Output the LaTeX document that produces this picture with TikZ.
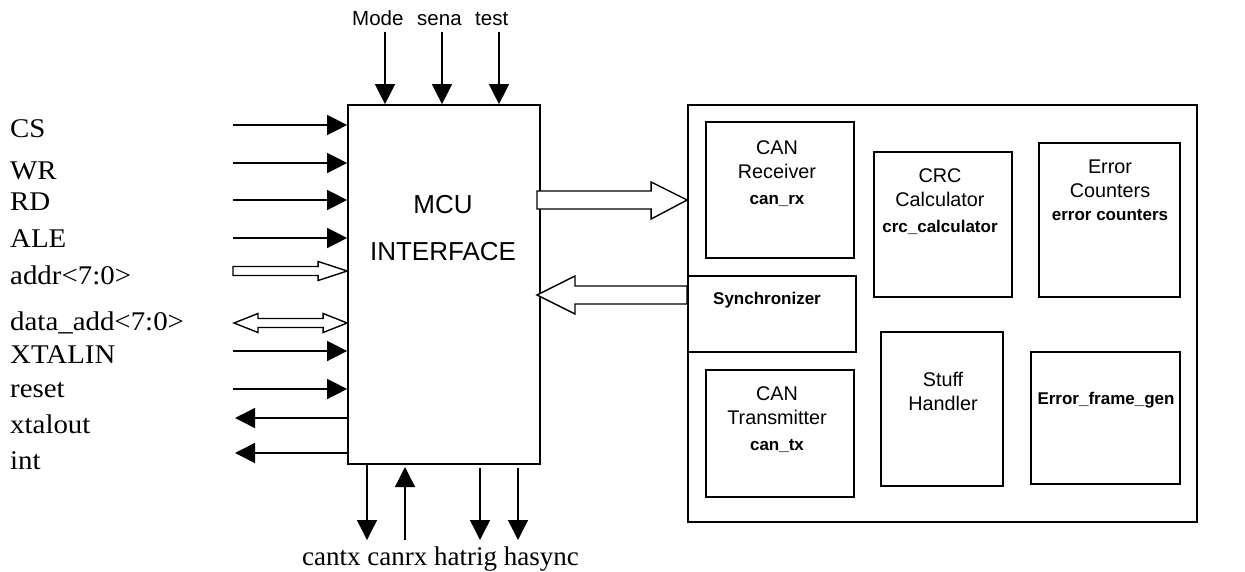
\documentclass[tikz,border=0pt]{standalone}
\usepackage{fontspec}
\setmainfont{Liberation Serif}
\setsansfont{Liberation Sans}
\newfontfamily\pinfont[FakeStretch=1.07]{Liberation Serif}
\usetikzlibrary{arrows.meta,calc}
\begin{document}
\begin{tikzpicture}[x=1pt,y=-1pt,
  box/.style={draw,line width=1.7pt,inner sep=0pt},
  sig/.style={line width=1.4pt,-{Triangle[length=20pt,width=20pt]}},
  bus/.style={draw,line width=1.4pt,fill=white,line join=miter},
  pin/.style={font=\pinfont\fontsize{27}{30}\selectfont,anchor=base west,inner sep=0pt},
  botpin/.style={font=\fontsize{27}{30}\selectfont,anchor=base west,inner sep=0pt},
  topin/.style={font=\sffamily\fontsize{20.5}{24}\selectfont,anchor=base west,inner sep=0pt},
  blk/.style={font=\sffamily\fontsize{19.8}{24}\selectfont,align=center,anchor=north,inner sep=0pt},
  bold/.style={font=\sffamily\bfseries\fontsize{17}{20}\selectfont,align=center,anchor=north,inner sep=0pt}]
\useasboundingbox (0,0) rectangle (1245,571);

% MCU interface block
\node[box,minimum width=192pt,minimum height=359pt] (mcu) at (444,284.5) {};
\node[font=\sffamily\fontsize{26}{47}\selectfont,align=center,anchor=north,inner sep=0pt]
  (mcutxt) at (443,195) {MCU\\INTERFACE};

% CAN core with its sub-blocks
\node[box,minimum width=509pt,minimum height=417pt] (core) at (942.5,313.5) {};
\node[box,minimum width=148pt,minimum height=136pt] (rx) at (780,190) {};
\node[box,minimum width=138pt,minimum height=145pt] (crc) at (943,224.5) {};
\node[box,minimum width=141pt,minimum height=154pt] (err) at (1109.5,220) {};
\node[box,minimum width=168pt,minimum height=76pt] (sync) at (772,314) {};
\node[box,minimum width=148pt,minimum height=127pt] (tx) at (780,433.5) {};
\node[box,minimum width=122pt,minimum height=154pt] (stuff) at (942,409) {};
\node[box,minimum width=149pt,minimum height=132pt] (efg) at (1105.5,418) {};

\node[blk] (rxt) at (777,140) {CAN\\Receiver\\[2pt]\textbf{\fontsize{17}{20}\selectfont can\_rx}};
\node[blk] (crct) at (940,168) {CRC\\Calculator\\[2pt]\textbf{\fontsize{17}{20}\selectfont crc\_calculator}};
\node[blk] (errt) at (1110,160) {Error\\Counters\\[-1pt]\textbf{\fontsize{17}{20}\selectfont error counters}};
\node[bold] (synct) at (767,292) {Synchronizer};
\node[blk] (txt) at (777,386) {CAN\\Transmitter\\[2pt]\textbf{\fontsize{17}{20}\selectfont can\_tx}};
\node[blk] (stufft) at (943,372) {Stuff\\Handler};
\node[bold] (efgt) at (1106,392) {Error\_frame\_gen};

% control inputs on top
\node[topin] (lmode) at (352,25) {Mode};
\node[topin] (lsena) at (417,25) {sena};
\node[topin] (ltest) at (475,25) {test};
\foreach \n/\x in {tmode/385,tsena/442,ttest/499}{
  \coordinate (\n) at (\x,32);
  \draw[sig] (\n) -- (\n |- mcu.north);
}

% host-side pins
\node[pin] (lcs) at (10,137) {CS};
\node[pin] (lwr) at (10,179) {WR};
\node[pin] (lrd) at (10,210) {RD};
\node[pin] (lale) at (10,247) {ALE};
\node[pin] (laddr) at (10,284) {addr<7:0>};
\node[pin] (ldata) at (10,330) {data\_add<7:0>};
\node[pin] (lxin) at (10,363) {XTALIN};
\node[pin] (lrst) at (10,397) {reset};
\node[pin] (lxout) at (10,433) {xtalout};
\node[pin] (lint) at (10,469) {int};

\foreach \n/\y in {pcs/125,pwr/163,prd/200,pale/238,pxin/351,prst/389}{
  \coordinate (\n) at (233,\y);
  \draw[sig] (\n) -- (\n -| mcu.west);
}
\foreach \n/\y in {pxout/418,pint/453}{
  \coordinate (\n) at (235,\y);
  \draw[sig] (\n -| mcu.west) -- (\n);
}

% address bus (input) and data bus (bidirectional)
\coordinate (paddr) at (233,271);
\coordinate (qaddr) at (paddr -| mcu.west);
\draw[bus] ($(paddr)+(0,-4.5)$) -- ($(qaddr)+(-29,-4.5)$) -- ($(qaddr)+(-29,-9.5)$)
  -- (qaddr) -- ($(qaddr)+(-29,9.5)$) -- ($(qaddr)+(-29,4.5)$) -- ($(paddr)+(0,4.5)$) -- cycle;

\coordinate (pdata) at (234,323);
\coordinate (qdata) at (pdata -| mcu.west);
\draw[bus] (pdata) -- ($(pdata)+(24,-9.5)$) -- ($(pdata)+(24,-4.5)$) -- ($(qdata)+(-24,-4.5)$)
  -- ($(qdata)+(-24,-9.5)$) -- (qdata) -- ($(qdata)+(-24,9.5)$) -- ($(qdata)+(-24,4.5)$)
  -- ($(pdata)+(24,4.5)$) -- ($(pdata)+(24,9.5)$) -- cycle;

% buses between the interface and the CAN core
\coordinate (brx) at (537,200);
\coordinate (brxtip) at (brx -| core.west);
\draw[bus] ($(brx)+(0,-9)$) -- ($(brxtip)+(-36,-9)$) -- ($(brxtip)+(-36,-18)$) -- (brxtip)
  -- ($(brxtip)+(-36,19)$) -- ($(brxtip)+(-36,9)$) -- ($(brx)+(0,9)$) -- cycle;

\coordinate (bsy) at (537,295);
\coordinate (bsyend) at (bsy -| sync.west);
\draw[bus] (bsy) -- ($(bsy)+(38,-19)$) -- ($(bsy)+(38,-9)$) -- ($(bsyend)+(0,-9)$)
  -- ($(bsyend)+(0,9)$) -- ($(bsy)+(38,9)$) -- ($(bsy)+(38,19)$) -- cycle;

% CAN bus side pins at the bottom
\coordinate (bcantx) at (367,540);
\draw[sig] (bcantx |- mcu.south) -- (bcantx);
\coordinate (bcanrx) at (405,540);
\draw[sig] (bcanrx) -- (405,467);
\coordinate (bhatrig) at (480,540);
\draw[sig] (480,468) -- (bhatrig);
\coordinate (bhasync) at (518,540);
\draw[sig] (518,468) -- (bhasync);
\node[botpin] (lbottom) at (302,565) {cantx canrx hatrig hasync};
\end{tikzpicture}
\end{document}
